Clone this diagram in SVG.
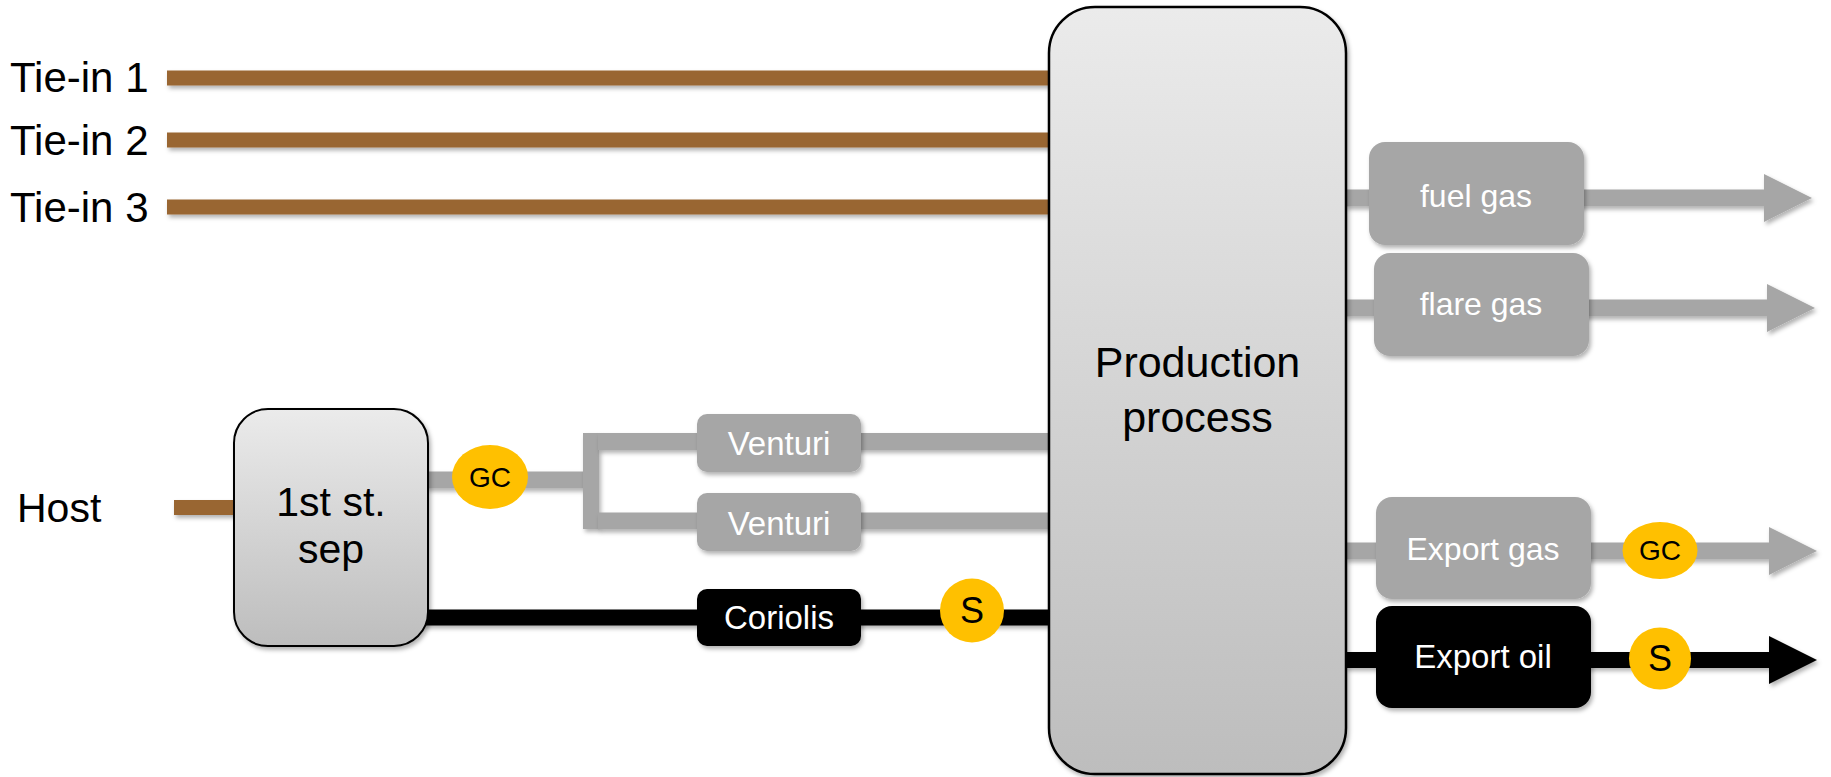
<svg xmlns="http://www.w3.org/2000/svg" width="1831" height="777" viewBox="0 0 1831 777">
  <defs>
    <linearGradient id="boxGrad" x1="0" y1="0" x2="0" y2="1">
      <stop offset="0" stop-color="#ebebeb"/>
      <stop offset="1" stop-color="#bdbdbd"/>
    </linearGradient>
    <filter id="shadow" filterUnits="userSpaceOnUse" x="0" y="0" width="1831" height="777">
      <feDropShadow dx="2" dy="3" stdDeviation="2" flood-color="#000" flood-opacity="0.3"/>
    </filter>
    <marker id="arrowGray" markerUnits="userSpaceOnUse" markerWidth="48" markerHeight="48" viewBox="0 0 48 48" refX="0" refY="24" orient="auto">
      <path d="M0,0 L48,24 L0,48 Z" fill="#a6a6a6"/>
    </marker>
    <marker id="arrowBlack" markerUnits="userSpaceOnUse" markerWidth="48" markerHeight="48" viewBox="0 0 48 48" refX="0" refY="24" orient="auto">
      <path d="M0,0 L48,24 L0,48 Z" fill="#000"/>
    </marker>
  </defs>
  <style>
    text { font-family: "Liberation Sans", Arial, sans-serif; }
    .label { font-size: 42px; fill: #000; }
    .brown { stroke: #996633; stroke-width: 15; fill: none; }
    .gas { stroke: #a6a6a6; stroke-width: 17; fill: none; }
    .oil { stroke: #000; stroke-width: 16; fill: none; }
    .sh { filter: url(#shadow); }
    .bigbox { fill: url(#boxGrad); stroke: #000; stroke-width: 2.5; }
    .graybox { fill: #a6a6a6; }
    .blackbox { fill: #000; }
    .boxtext { font-size: 33px; fill: #fff; text-anchor: middle; }
    .meter { fill: #ffc000; }
    .metertext { fill: #000; text-anchor: middle; }
  </style>

  <rect width="1831" height="777" fill="#fff"/>

  <!-- labels -->
  <g id="label-tiein1"><text class="label" x="10" y="92">Tie-in 1</text></g>
  <g id="label-tiein2"><text class="label" x="10" y="155">Tie-in 2</text></g>
  <g id="label-tiein3"><text class="label" x="10" y="222">Tie-in 3</text></g>
  <g id="label-host"><text class="label" x="17" y="522" style="font-size:41px">Host</text></g>

  <!-- connectors -->
  <g id="connectors">
    <line class="brown sh" x1="167" y1="78" x2="1050" y2="78"/>
    <line class="brown sh" x1="167" y1="140" x2="1050" y2="140"/>
    <line class="brown sh" x1="167" y1="207" x2="1050" y2="207"/>
    <line class="brown sh" x1="174" y1="507.5" x2="236" y2="507.5"/>
    <!-- gas from separator -->
    <line class="gas sh" x1="426" y1="480" x2="584" y2="480"/>
    <rect class="sh" x="583" y="433" width="16" height="96" fill="#a6a6a6"/>
    <line class="gas sh" x1="598" y1="441.5" x2="1050" y2="441.5"/>
    <line class="gas sh" x1="598" y1="521" x2="1050" y2="521"/>
    <!-- oil from separator -->
    <line class="oil sh" x1="410" y1="617.5" x2="1050" y2="617.5"/>
    <!-- outputs -->
    <line class="gas sh" x1="1345" y1="198" x2="1764" y2="198" marker-end="url(#arrowGray)"/>
    <line class="gas sh" x1="1345" y1="308" x2="1767" y2="308" marker-end="url(#arrowGray)"/>
    <line class="gas sh" x1="1345" y1="551" x2="1769" y2="551" marker-end="url(#arrowGray)"/>
    <line class="oil sh" x1="1345" y1="660" x2="1769" y2="660" marker-end="url(#arrowBlack)"/>
  </g>

  <!-- nodes -->
  <g id="production-process">
    <rect class="bigbox sh" x="1049" y="7" width="297" height="767" rx="46" ry="46"/>
    <text class="label" x="1197.5" y="377" text-anchor="middle" style="font-size:43px">Production</text>
    <text class="label" x="1197.5" y="432" text-anchor="middle" style="font-size:43px">process</text>
  </g>

  <g id="separator">
    <rect class="bigbox sh" x="234" y="409" width="194" height="237" rx="34" ry="34" style="stroke-width:2"/>
    <text class="label" x="331" y="516" text-anchor="middle" style="font-size:41px">1st st.</text>
    <text class="label" x="331" y="563" text-anchor="middle" style="font-size:41px">sep</text>
  </g>

  <g id="gc-inlet">
    <ellipse class="meter" cx="490" cy="477" rx="38" ry="32"/>
    <text class="metertext" x="490" y="487" style="font-size:28px">GC</text>
  </g>

  <g id="venturi-1">
    <rect class="graybox sh" x="697" y="414" width="164" height="58" rx="10" ry="10"/>
    <text class="boxtext" x="779" y="455">Venturi</text>
  </g>

  <g id="venturi-2">
    <rect class="graybox sh" x="697" y="493" width="164" height="58" rx="10" ry="10"/>
    <text class="boxtext" x="779" y="535">Venturi</text>
  </g>

  <g id="coriolis">
    <rect class="blackbox sh" x="697" y="589" width="164" height="57" rx="10" ry="10"/>
    <text class="boxtext" x="779" y="629">Coriolis</text>
  </g>

  <g id="s-inlet">
    <circle class="meter" cx="972" cy="610.5" r="32"/>
    <text class="metertext" x="972" y="623" style="font-size:36px">S</text>
  </g>

  <g id="fuel-gas">
    <rect class="graybox sh" x="1369" y="142" width="215" height="103" rx="16" ry="16"/>
    <text class="boxtext" x="1476" y="207" style="font-size:32px">fuel gas</text>
  </g>

  <g id="flare-gas">
    <rect class="graybox sh" x="1374" y="253" width="215" height="103" rx="16" ry="16"/>
    <text class="boxtext" x="1481" y="315" style="font-size:32px">flare gas</text>
  </g>

  <g id="export-gas">
    <rect class="graybox sh" x="1376" y="497" width="215" height="102" rx="16" ry="16"/>
    <text class="boxtext" x="1483" y="560" style="font-size:32px">Export gas</text>
  </g>

  <g id="gc-export">
    <ellipse class="meter" cx="1660" cy="550.5" rx="37.5" ry="28.5"/>
    <text class="metertext" x="1660" y="560" style="font-size:28px">GC</text>
  </g>

  <g id="export-oil">
    <rect class="blackbox sh" x="1376" y="606" width="215" height="102" rx="16" ry="16"/>
    <text class="boxtext" x="1483" y="668">Export oil</text>
  </g>

  <g id="s-export">
    <circle class="meter" cx="1660" cy="658.5" r="31"/>
    <text class="metertext" x="1660" y="671" style="font-size:36px">S</text>
  </g>
</svg>
